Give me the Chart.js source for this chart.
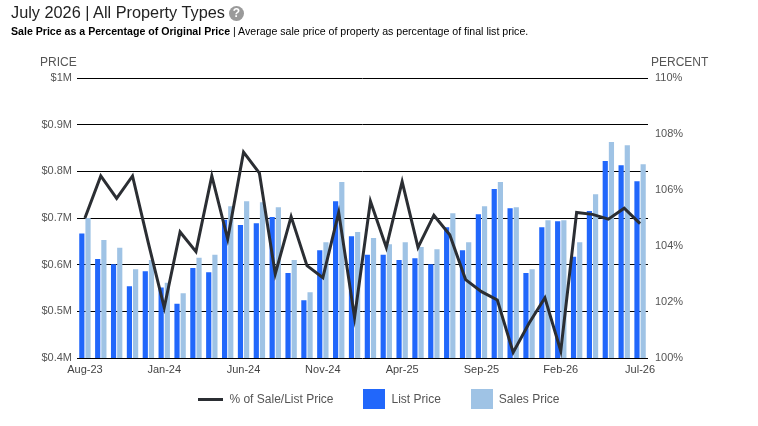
<!DOCTYPE html>
<html>
<head>
<meta charset="utf-8">
<script src="https://cdn.jsdelivr.net/npm/chart.js@4.4.1/dist/chart.umd.min.js"></script>
<style>
  html, body { margin: 0; padding: 0; background: #fff; }
  body { width: 758px; height: 426px; position: relative; overflow: hidden; font-family: "Liberation Sans", Arial, sans-serif; }
  #wrap { position: absolute; left: 0; top: 0; width: 758px; height: 426px; }
  .title { position: absolute; left: 11px; top: 3px; font-size: 16.3px; color: #222; white-space: nowrap; }
  .help { display: inline-block; width: 15px; height: 15px; border-radius: 50%; background: #9a9a9a; color: #fff;
          font-size: 12px; font-weight: bold; text-align: center; line-height: 15px; vertical-align: 1px; margin-left: 4px; }
  .sub { position: absolute; left: 11px; top: 25px; font-size: 10.6px; color: #000; white-space: nowrap; }
  .axis-name { position: absolute; top: 55px; font-size: 12px; color: #555; }
  .legend { position: absolute; top: 389px; left: 0; width: 758px; display: flex; justify-content: center; align-items: center;
            font-size: 12px; color: #555; }
  .legend .item { display: flex; align-items: center; }
  .legend .line { width: 25px; height: 3px; background: #2b2e33; margin-right: 6px; }
  .legend .box { width: 22px; height: 20px; margin-right: 6px; }
</style>
</head>
<body>
<div id="wrap"><canvas id="priceChart"></canvas></div>
<div class="title">July 2026 | All Property Types<span class="help">?</span></div>
<div class="sub"><b>Sale Price as a Percentage of Original Price</b> | Average sale price of property as percentage of final list price.</div>
<div class="axis-name" style="left:40px;">PRICE</div>
<div class="axis-name" style="left:651px;">PERCENT</div>
<div class="legend">
  <div class="item" style="margin-right:30px;"><span class="line"></span>% of Sale/List Price</div>
  <div class="item" style="margin-right:30px;"><span class="box" style="background:#2167fb;"></span>List Price</div>
  <div class="item"><span class="box" style="background:#9fc3e5;"></span>Sales Price</div>
</div>
<script>
  const months = ['Aug-23', 'Sep-23', 'Oct-23', 'Nov-23', 'Dec-23', 'Jan-24', 'Feb-24', 'Mar-24', 'Apr-24', 'May-24', 'Jun-24', 'Jul-24',
    'Aug-24', 'Sep-24', 'Oct-24', 'Nov-24', 'Dec-24', 'Jan-25', 'Feb-25', 'Mar-25', 'Apr-25', 'May-25', 'Jun-25', 'Jul-25',
    'Aug-25', 'Sep-25', 'Oct-25', 'Nov-25', 'Dec-25', 'Jan-26', 'Feb-26', 'Mar-26', 'Apr-26', 'May-26', 'Jun-26', 'Jul-26'];

  // prices in $M
  const listPrice = [0.667, 0.612, 0.601, 0.554, 0.586, 0.551, 0.516, 0.593, 0.584, 0.696, 0.685, 0.689,
    0.702, 0.582, 0.524, 0.631, 0.736, 0.661, 0.621, 0.621, 0.610, 0.614, 0.601, 0.680,
    0.631, 0.708, 0.762, 0.721, 0.582, 0.680, 0.693, 0.617, 0.715, 0.822, 0.813, 0.779];

  const salesPrice = [0.700, 0.653, 0.636, 0.590, 0.610, 0.561, 0.539, 0.615, 0.621, 0.725, 0.736, 0.734,
    0.723, 0.610, 0.541, 0.648, 0.777, 0.670, 0.657, 0.644, 0.648, 0.638, 0.633, 0.710,
    0.648, 0.725, 0.777, 0.723, 0.590, 0.695, 0.695, 0.648, 0.751, 0.863, 0.856, 0.815];

  // % of sale / list price
  const salePct = [105.0, 106.5, 105.7, 106.5, 104.1, 101.8, 104.5, 103.8, 106.5, 104.25, 107.35, 106.6,
    103.0, 105.05, 103.3, 102.87, 105.2, 101.45, 105.6, 103.95, 106.3, 103.95, 105.1, 104.4,
    102.8, 102.37, 102.07, 100.2, 101.24, 102.15, 100.25, 105.2, 105.13, 104.96, 105.35, 104.8];

  const priceTicks = [0.4, 0.5, 0.6, 0.7, 0.8, 0.9, 1.0];
  const pctTicks = [100, 102, 104, 106, 108, 110];

  const ctx = document.getElementById('priceChart').getContext('2d');
  new Chart(ctx, {
    data: {
      labels: months,
      datasets: [
        {
          type: 'line',
          label: '% of Sale/List Price',
          data: salePct,
          yAxisID: 'pct',
          borderColor: '#2b2e33',
          borderWidth: 3,
          pointRadius: 0,
          tension: 0,
          order: 0
        },
        {
          type: 'bar',
          label: 'List Price',
          data: listPrice,
          yAxisID: 'price',
          backgroundColor: '#2167fb',
          categoryPercentage: 0.78,
          barPercentage: 0.84,
          order: 1
        },
        {
          type: 'bar',
          label: 'Sales Price',
          data: salesPrice,
          yAxisID: 'price',
          backgroundColor: '#9fc3e5',
          categoryPercentage: 0.78,
          barPercentage: 0.84,
          order: 1
        }
      ]
    },
    options: {
      responsive: true,
      maintainAspectRatio: false,
      animation: false,
      layout: { padding: { top: 78, left: 0, right: 0, bottom: 42 } },
      plugins: {
        legend: { display: false },
        tooltip: { enabled: false }
      },
      scales: {
        x: {
          grid: { display: false, drawTicks: false },
          border: { display: false },
          ticks: {
            autoSkip: false,
            maxRotation: 0,
            color: '#444',
            font: { family: 'Liberation Sans', size: 11 },
            padding: 5,
            callback: (v, i) => (i % 5 === 0 ? months[i] : '')
          },
          afterFit: s => { s.height = 26; }
        },
        price: {
          position: 'left',
          min: 0.4,
          max: 1.0,
          afterBuildTicks: s => { s.ticks = priceTicks.map(v => ({ value: v })); },
          grid: { color: '#000', lineWidth: 1, drawTicks: false },
          border: { display: false },
          ticks: {
            color: '#555',
            padding: 5,
            font: { family: 'Liberation Sans', size: 11 },
            callback: v => (v >= 0.999 ? '$1M' : '$' + v.toFixed(1) + 'M')
          },
          afterFit: s => { s.width = 77; }
        },
        pct: {
          position: 'right',
          min: 100,
          max: 110,
          afterBuildTicks: s => { s.ticks = pctTicks.map(v => ({ value: v })); },
          grid: { display: false, drawTicks: false },
          border: { display: false },
          ticks: {
            color: '#555',
            padding: 7,
            font: { family: 'Liberation Sans', size: 11 },
            callback: v => v + '%'
          },
          afterFit: s => { s.width = 110; }
        }
      }
    }
  });
</script>
</body>
</html>
